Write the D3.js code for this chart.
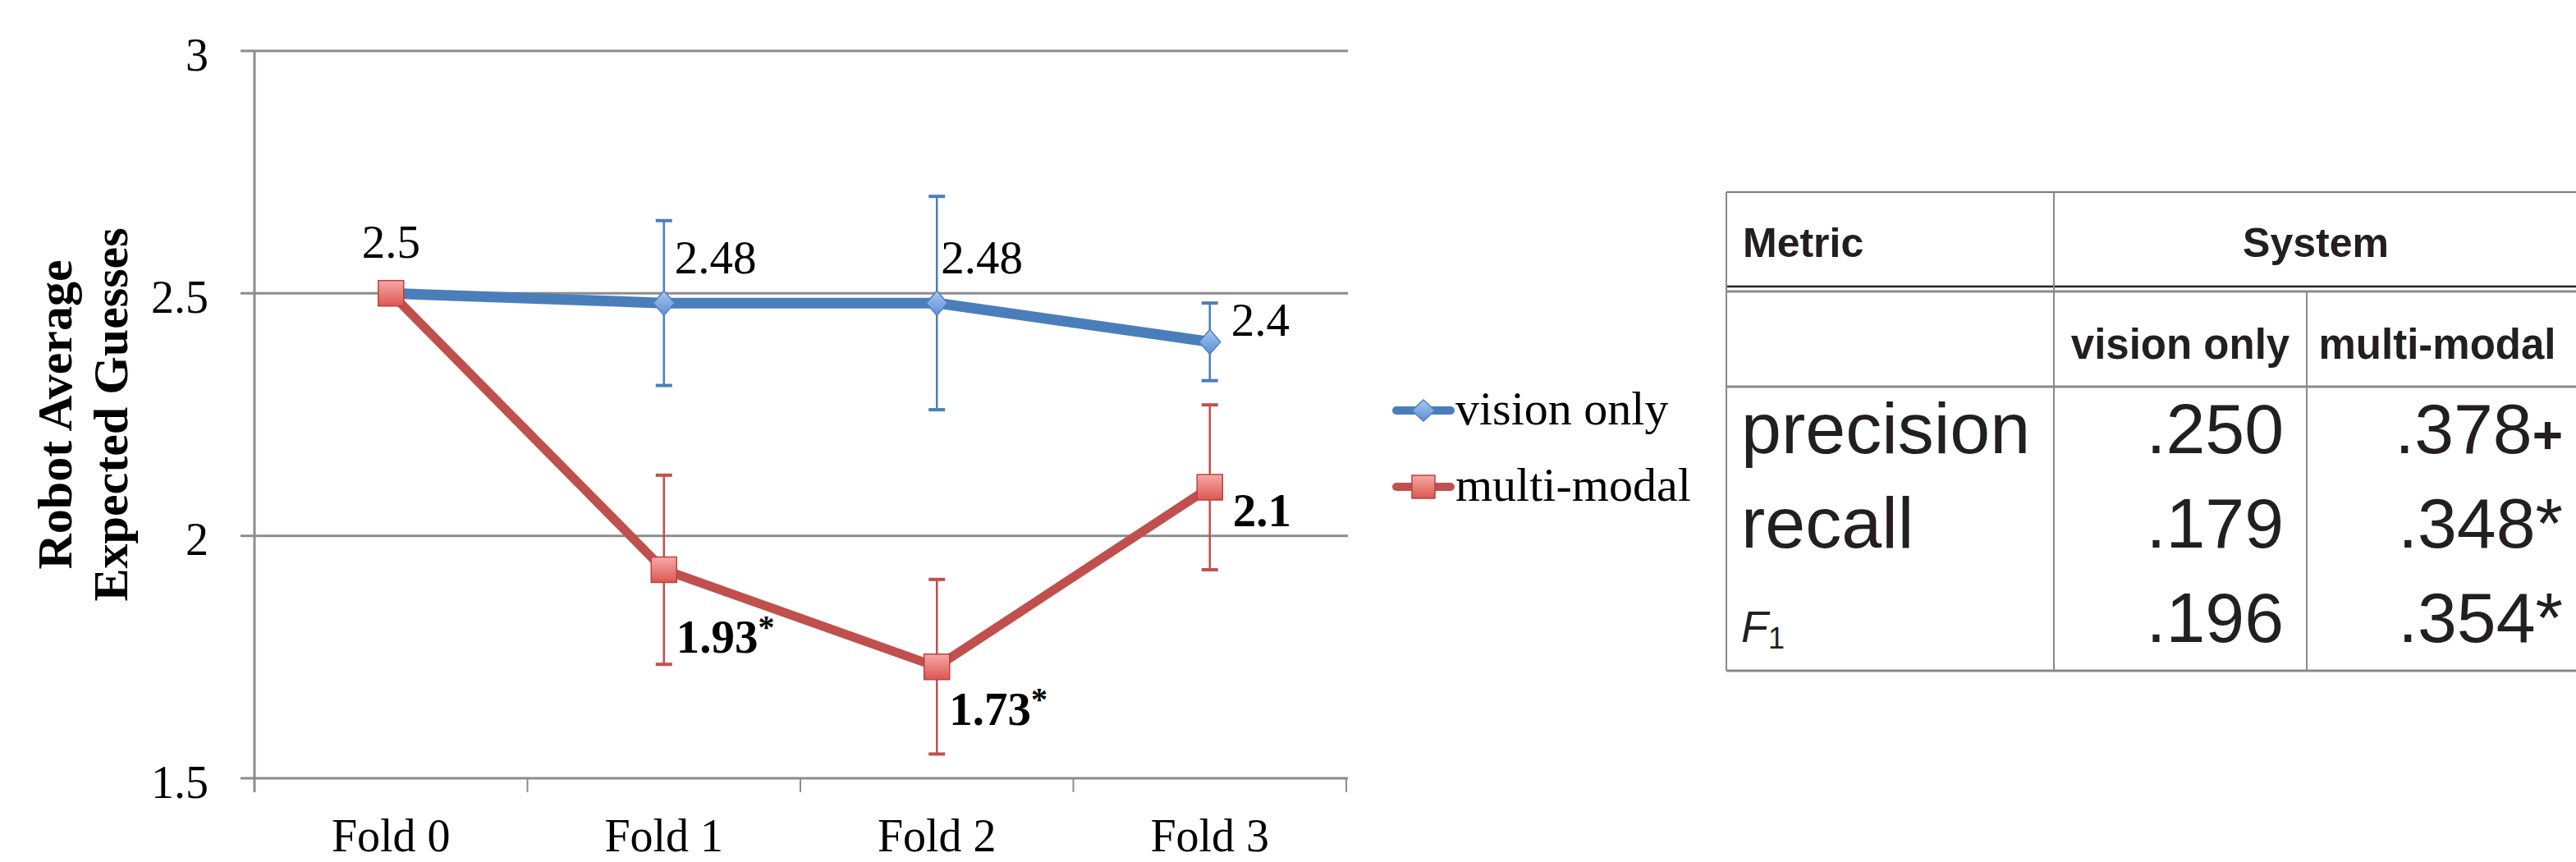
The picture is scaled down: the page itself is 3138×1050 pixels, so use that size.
<!DOCTYPE html>
<html>
  <head>
    <meta charset="UTF-8">
    <title>Robot Average Expected Guesses by Fold</title>
    <style>
      body { margin: 0; background: #fff; }
      svg { display: block; }
    </style>
  </head>
  <body>
    <svg></svg>

    <script src="https://cdn.jsdelivr.net/npm/d3@7"></script>
    <script>

/* DATA */

var folds = ["Fold 0", "Fold 1", "Fold 2", "Fold 3"];
var yTicks = [1.5, 2, 2.5, 3];
var seriesNames = ["vision only", "multi-modal"];

// robot average expected guesses, with error bar half-widths
var visionOnly = [2.5, 2.48, 2.48, 2.4];
var visionErr = [0, 0.17, 0.22, 0.08];
var multiModal = [2.5, 1.93, 1.73, 2.1];
var multiErr = [0, 0.195, 0.18, 0.17];
var multiStars = ["", "*", "*", ""];

// table on the right
var tableHeaders = ["Metric", "System"];
var systemNames = ["vision only", "multi-modal"];
var metrics = ["precision", "recall", "F1"];
var visionScores = [0.250, 0.179, 0.196];
var multiScores = [0.378, 0.348, 0.354];
var multiMarks = ["+", "*", "*"];

/* CONFIG */

var config = {
  "width": 3138,
  "height": 1050,
  "plot": {"left": 310, "right": 1640, "top": 62, "bottom": 948},
  "serif": "'Liberation Serif', 'Times New Roman', serif",
  "sans": "'Liberation Sans', Arial, Helvetica, sans-serif",
  "fontSize": 56,
  "blue": "#4a7ebb",
  "red": "#c0504d",
  "grid": "#8c8c8c"
};

// where each data label sits relative to its point
var visionLabelPos = [
  {"dx": 0, "dy": -43, "anchor": "middle"},
  {"dx": 13, "dy": -36, "anchor": "start"},
  {"dx": 5, "dy": -36, "anchor": "start"},
  {"dx": 26, "dy": -7, "anchor": "start"}
];
var multiLabelPos = [
  null,
  {"dx": 15, "dy": 101, "anchor": "start"},
  {"dx": 15, "dy": 71, "anchor": "start"},
  {"dx": 28, "dy": 47, "anchor": "start"}
];

var svg = d3.select("svg")
  .attr("width", config.width)
  .attr("height", config.height)
  .style("font-family", config.serif);

var defs = svg.append("defs");

var redGrad = defs.append("linearGradient")
  .attr("id", "redGrad").attr("x1", 0).attr("y1", 0).attr("x2", 0).attr("y2", 1);
redGrad.append("stop").attr("offset", "0%").attr("stop-color", "#f6a9a6");
redGrad.append("stop").attr("offset", "100%").attr("stop-color", "#dc5752");

var blueGrad = defs.append("linearGradient")
  .attr("id", "blueGrad").attr("x1", 0).attr("y1", 0).attr("x2", 0).attr("y2", 1);
blueGrad.append("stop").attr("offset", "0%").attr("stop-color", "#a9c8ef");
blueGrad.append("stop").attr("offset", "100%").attr("stop-color", "#5b8fd6");

/* SCALES */

var p = config.plot;

var x = d3.scaleBand()
  .domain(folds)
  .range([p.left, p.right]);

var y = d3.scaleLinear()
  .domain([1.5, 3])
  .range([p.bottom, p.top]);

function cx(i) { return x(folds[i]) + x.bandwidth() / 2; }

/* GRID + AXES */

var chart = svg.append("g");

chart.selectAll(".grid")
  .data(yTicks)
  .enter().append("line")
    .attr("class", "grid")
    .attr("x1", p.left - 17)
    .attr("x2", p.right + 2)
    .attr("y1", function(d){ return y(d); })
    .attr("y2", function(d){ return y(d); })
    .attr("stroke", config.grid)
    .attr("stroke-width", 3);

chart.selectAll(".ylab")
  .data(yTicks)
  .enter().append("text")
    .attr("class", "ylab")
    .attr("x", 254)
    .attr("y", function(d){ return y(d); })
    .attr("dy", "0.42em")
    .attr("text-anchor", "end")
    .attr("font-size", config.fontSize)
    .text(function(d){ return d; });

// vertical axis line
chart.append("line")
  .attr("x1", p.left).attr("x2", p.left)
  .attr("y1", y(3)).attr("y2", y(1.5) + 17)
  .attr("stroke", config.grid)
  .attr("stroke-width", 3);

// category boundary ticks
var boundaries = folds.map(function(f){ return x(f); }).concat([x(folds[folds.length - 1]) + x.bandwidth()]);
chart.selectAll(".xtick")
  .data(boundaries.slice(1))
  .enter().append("line")
    .attr("class", "xtick")
    .attr("x1", function(d){ return d; })
    .attr("x2", function(d){ return d; })
    .attr("y1", y(1.5))
    .attr("y2", y(1.5) + 17)
    .attr("stroke", config.grid)
    .attr("stroke-width", 2);

chart.selectAll(".xlab")
  .data(folds)
  .enter().append("text")
    .attr("class", "xlab")
    .attr("x", function(d, i){ return cx(i); })
    .attr("y", 1037)
    .attr("text-anchor", "middle")
    .attr("font-size", config.fontSize)
    .text(function(d){ return d; });

// y title, two lines
var yTitle = ["Robot Average", "Expected Guesses"];
chart.selectAll(".ytitle")
  .data(yTitle)
  .enter().append("text")
    .attr("class", "ytitle")
    .attr("transform", function(d, i){
      return "translate(" + (87 + i * 68) + "," + ((p.top + p.bottom) / 2) + ") rotate(-90)";
    })
    .attr("text-anchor", "middle")
    .attr("font-size", 60)
    .attr("font-weight", "bold")
    .text(function(d){ return d; });

/* ERROR BARS */

function errorBars(values, errs, color, cls) {
  var idx = d3.range(values.length).filter(function(i){ return errs[i] > 0; });
  var g = chart.selectAll("." + cls)
    .data(idx)
    .enter().append("g")
      .attr("class", cls)
      .attr("stroke", color)
      .attr("stroke-width", 2.5);
  g.append("line")
    .attr("x1", function(i){ return cx(i); })
    .attr("x2", function(i){ return cx(i); })
    .attr("y1", function(i){ return y(values[i] + errs[i]); })
    .attr("y2", function(i){ return y(values[i] - errs[i]); });
  [1, -1].forEach(function(s){
    g.append("line")
      .attr("x1", function(i){ return cx(i) - 10; })
      .attr("x2", function(i){ return cx(i) + 10; })
      .attr("y1", function(i){ return y(values[i] + s * errs[i]); })
      .attr("y2", function(i){ return y(values[i] + s * errs[i]); })
      .attr("stroke-width", 4);
  });
}

errorBars(visionOnly, visionErr, config.blue, "errv");
errorBars(multiModal, multiErr, config.red, "errm");

/* LINES + MARKERS */

var line = d3.line()
  .x(function(d, i){ return cx(i); })
  .y(function(d){ return y(d); });

var diamond = "M0,-15L13,0L0,15L-13,0Z";
var square = d3.symbol().type(d3.symbolSquare).size(31 * 31)();

chart.append("path")
  .datum(visionOnly)
  .attr("d", line)
  .attr("fill", "none")
  .attr("stroke", config.blue)
  .attr("stroke-width", 13)
  .attr("stroke-linejoin", "round");

chart.selectAll(".dv")
  .data(visionOnly)
  .enter().append("path")
    .attr("class", "dv")
    .attr("transform", function(d, i){ return "translate(" + cx(i) + "," + y(d) + ")"; })
    .attr("d", diamond)
    .attr("fill", "url(#blueGrad)")
    .attr("stroke", "#4f7fc0")
    .attr("stroke-width", 1.5);

chart.append("path")
  .datum(multiModal)
  .attr("d", line)
  .attr("fill", "none")
  .attr("stroke", config.red)
  .attr("stroke-width", 11)
  .attr("stroke-linejoin", "round");

chart.selectAll(".sm")
  .data(multiModal)
  .enter().append("path")
    .attr("class", "sm")
    .attr("transform", function(d, i){ return "translate(" + cx(i) + "," + y(d) + ")"; })
    .attr("d", square)
    .attr("fill", "url(#redGrad)")
    .attr("stroke", "#b8433f")
    .attr("stroke-width", 1.5);

/* DATA LABELS */

chart.selectAll(".lv")
  .data(visionOnly)
  .enter().append("text")
    .attr("class", "lv")
    .attr("x", function(d, i){ return cx(i) + visionLabelPos[i].dx; })
    .attr("y", function(d, i){ return y(d) + visionLabelPos[i].dy; })
    .attr("text-anchor", function(d, i){ return visionLabelPos[i].anchor; })
    .attr("font-size", 57)
    .text(function(d){ return d; });

var lm = chart.selectAll(".lm")
  .data(d3.range(multiModal.length).filter(function(i){ return multiLabelPos[i]; }))
  .enter().append("text")
    .attr("class", "lm")
    .attr("x", function(i){ return cx(i) + multiLabelPos[i].dx; })
    .attr("y", function(i){ return y(multiModal[i]) + multiLabelPos[i].dy; })
    .attr("font-size", 57)
    .attr("font-weight", "bold");
lm.append("tspan").text(function(i){ return multiModal[i]; });
lm.append("tspan")
  .attr("font-size", 40)
  .attr("dy", -18)
  .text(function(i){ return multiStars[i]; });

/* LEGEND */

var legendColors = [config.blue, config.red];
var legend = chart.selectAll(".legend")
  .data(seriesNames)
  .enter().append("g")
    .attr("class", "legend")
    .attr("transform", function(d, i){ return "translate(1697," + (500 + i * 93) + ")"; });

legend.append("line")
  .attr("x1", 4).attr("x2", 70)
  .attr("stroke", function(d, i){ return legendColors[i]; })
  .attr("stroke-width", 10)
  .attr("stroke-linecap", "round");

legend.append("path")
  .attr("transform", "translate(37,0)")
  .attr("d", function(d, i){ return i === 0 ? "M0,-13L14,0L0,13L-14,0Z" : d3.symbol().type(d3.symbolSquare).size(28 * 28)(); })
  .attr("fill", function(d, i){ return i === 0 ? "url(#blueGrad)" : "url(#redGrad)"; })
  .attr("stroke", function(d, i){ return i === 0 ? "#4f7fc0" : "#b8433f"; })
  .attr("stroke-width", 1.5);

legend.append("text")
  .attr("x", 76)
  .attr("y", 0)
  .attr("dy", "0.3em")
  .attr("font-size", 58)
  .text(function(d){ return d; });

/* TABLE */

var t = {"left": 2103, "c1": 2502, "c2": 2810, "right": 3140,
  "top": 234, "head": 349, "head2": 356, "sub": 471, "bottom": 817};
var fmt = function(v){ return d3.format(".3f")(v).replace(/^0/, ""); };

var table = svg.append("g")
  .style("font-family", config.sans)
  .attr("fill", "#231f20");

var hLines = [
  {"y": t.top, "w": 2, "c": "#7a7a7a"},
  {"y": t.head, "w": 2.5, "c": "#222"},
  {"y": t.head2 - 1, "w": 3, "c": "#8a8a8a"},
  {"y": t.sub, "w": 3, "c": "#8a8a8a"},
  {"y": t.bottom, "w": 3, "c": "#8a8a8a"}
];
table.selectAll(".hl")
  .data(hLines)
  .enter().append("line")
    .attr("x1", t.left).attr("x2", t.right)
    .attr("y1", function(d){ return d.y; })
    .attr("y2", function(d){ return d.y; })
    .attr("stroke", function(d){ return d.c; })
    .attr("stroke-width", function(d){ return d.w; });

var vLines = [
  {"x": t.left, "y1": t.top, "y2": t.bottom},
  {"x": t.c1, "y1": t.top, "y2": t.bottom},
  {"x": t.c2, "y1": t.head2, "y2": t.bottom}
];
table.selectAll(".vl")
  .data(vLines)
  .enter().append("line")
    .attr("x1", function(d){ return d.x; })
    .attr("x2", function(d){ return d.x; })
    .attr("y1", function(d){ return d.y1; })
    .attr("y2", function(d){ return d.y2; })
    .attr("stroke", "#8a8a8a")
    .attr("stroke-width", 2);

table.append("text")
  .attr("x", 2123).attr("y", 313)
  .attr("font-size", 50).attr("font-weight", "bold")
  .text(tableHeaders[0]);
table.append("text")
  .attr("x", (t.c1 + t.right) / 2).attr("y", 313)
  .attr("text-anchor", "middle")
  .attr("font-size", 50).attr("font-weight", "bold")
  .text(tableHeaders[1]);

table.selectAll(".sys")
  .data(systemNames)
  .enter().append("text")
    .attr("x", function(d, i){ return i === 0 ? (t.c1 + t.c2) / 2 : (t.c2 + t.right) / 2 - 6; })
    .attr("y", 437)
    .attr("text-anchor", "middle")
    .attr("font-size", 51).attr("font-weight", "bold")
    .text(function(d){ return d; });

var rowY = function(i){ return 552 + i * 115; };

var mt = table.selectAll(".metric")
  .data(metrics)
  .enter().append("text")
    .attr("x", 2121)
    .attr("y", function(d, i){ return rowY(i); })
    .attr("font-size", function(d){ return d === "F1" ? 54 : 88; });
mt.filter(function(d){ return d !== "F1"; }).text(function(d){ return d; });
var f1 = mt.filter(function(d){ return d === "F1"; });
f1.append("tspan").attr("font-style", "italic").text("F");
f1.append("tspan").attr("font-size", 36).attr("dy", 8).text("1");

table.selectAll(".vs")
  .data(visionScores)
  .enter().append("text")
    .attr("x", 2782)
    .attr("y", function(d, i){ return rowY(i); })
    .attr("text-anchor", "end")
    .attr("font-size", 86)
    .text(fmt);

var ms = table.selectAll(".ms")
  .data(multiScores)
  .enter().append("text")
    .attr("x", 3122)
    .attr("y", function(d, i){ return rowY(i); })
    .attr("text-anchor", "end")
    .attr("font-size", 86);
ms.append("tspan").text(fmt);
ms.append("tspan")
  .attr("font-weight", function(d, i){ return multiMarks[i] === "+" ? "bold" : "normal"; })
  .attr("font-size", function(d, i){ return multiMarks[i] === "+" ? 64 : 86; })
  .text(function(d, i){ return multiMarks[i]; });

    </script>
  </body>
</html>
